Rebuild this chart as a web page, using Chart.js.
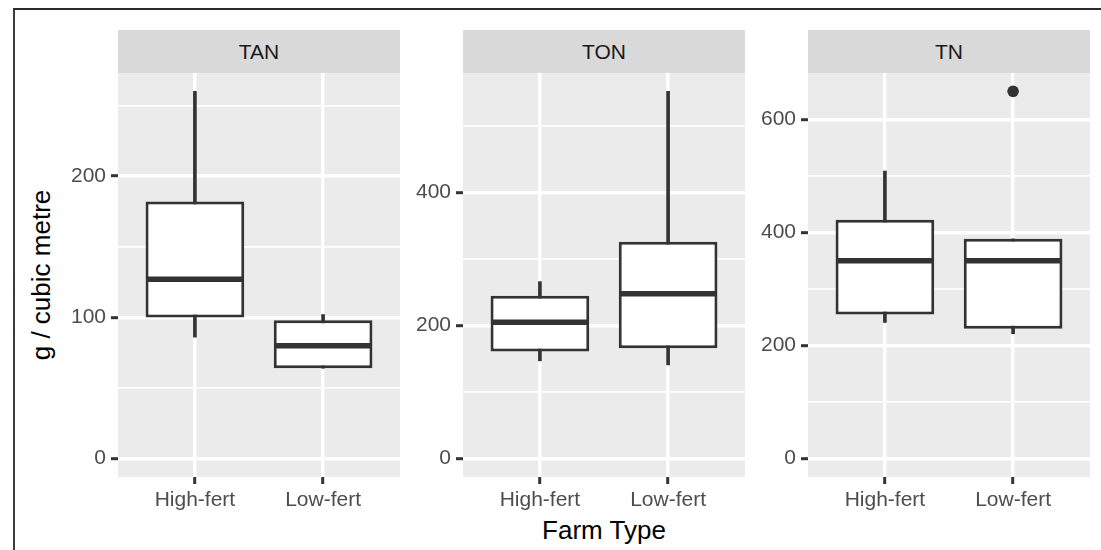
<!DOCTYPE html>
<html>
<head>
<meta charset="utf-8">
<script src="https://cdn.jsdelivr.net/npm/chart.js@4.4.1/dist/chart.umd.min.js"></script>
<style>
  html, body { margin: 0; padding: 0; background: #fff; }
  #fig { position: relative; width: 1101px; height: 550px; overflow: hidden; font-family: "Liberation Sans", Arial, sans-serif; }
  .frame { position: absolute; left: 13px; top: 8px; right: -4px; bottom: -4px; border-left: 2px solid #3c3c3c; border-top: 2px solid #2a2a2a; }
  .strip { position: absolute; top: 30px; height: 43px; width: 282px; background: #d9d9d9; color: #1a1a1a; font-size: 21px; line-height: 43px; text-align: center; }
  .panel { position: absolute; top: 73px; }
  .ytitle { position: absolute; left: 41px; top: 275px; transform: translate(-50%, -50%) rotate(-90deg); font-size: 26px; white-space: nowrap; color: #000; }
  .xtitle { position: absolute; left: 604px; top: 530px; transform: translate(-50%, -50%); font-size: 26px; white-space: nowrap; color: #000; }
</style>
</head>
<body>
<div id="fig">
  <div class="frame"></div>
  <div class="ytitle">g / cubic metre</div>
  <div class="xtitle">Farm Type</div>
</div>
<script>
// valeurs : [min, q1, médiane, q3, max]
const facets = ["TAN", "TON", "TN"];
const farmTypes = ["High-fert", "Low-fert"];

const tanHigh = [86, 100, 127, 182, 260];
const tanLow = [64, 64, 80, 98, 102];
const tonHigh = [147, 161, 205, 245, 266];
const tonLow = [141, 166, 248, 326, 552];
const tnHigh = [241, 255, 350, 423, 509];
const tnLow = [221, 230, 350, 389, 389];

const tanOutliers = [[], []];
const tonOutliers = [[], []];
const tnOutliers = [[], [650]];

const tanTicks = [0, 100, 200];
const tonTicks = [0, 200, 400];
const tnTicks = [0, 200, 400, 600];

// mise en page (px)
const AXIS_W = 58, AXIS_H = 44, PANEL_W = 282, PANEL_H = 404;
const panelLefts = [118, 463, 808];
const INK = "#333333";

Chart.defaults.font.family = '"Liberation Sans", Arial, sans-serif';

const panelBg = {
  id: "panelBg",
  beforeDraw(chart) {
    const { ctx, chartArea: a } = chart;
    ctx.save();
    ctx.fillStyle = "#ebebeb";
    ctx.fillRect(a.left, a.top, a.right - a.left, a.bottom - a.top);
    ctx.restore();
  },
};

const fig = document.getElementById("fig");

function makePanel(idx, stats, outliers, ticks) {
  const left = panelLefts[idx];

  const strip = document.createElement("div");
  strip.className = "strip";
  strip.style.left = left + "px";
  strip.textContent = facets[idx];
  fig.appendChild(strip);

  const canvas = document.createElement("canvas");
  canvas.className = "panel";
  canvas.width = AXIS_W + PANEL_W;
  canvas.height = PANEL_H + AXIS_H;
  canvas.style.left = left - AXIS_W + "px";
  fig.appendChild(canvas);

  // échelle comme ggplot : [0, max] + 5 %
  const top = Math.max(...stats.map((s) => s[4]), ...outliers.flat());
  const pad = top * 0.05;
  const half = (ticks[1] - ticks[0]) / 2;
  const isMajor = (v) => ticks.includes(v);

  return new Chart(canvas, {
    type: "bar",
    data: {
      datasets: [
        {
          type: "bar",
          label: "box",
          data: stats.map((s, i) => ({ x: i, y: [s[1], s[3]] })),
          backgroundColor: "#ffffff",
          borderColor: INK,
          borderWidth: 3,
          borderSkipped: false,
          grouped: false,
          barPercentage: 0.77,
          categoryPercentage: 1,
          order: 2,
        },
        {
          type: "bar",
          label: "whisker",
          data: stats.map((s, i) => ({ x: i, y: [s[0], s[4]] })),
          backgroundColor: INK,
          borderWidth: 0,
          grouped: false,
          barThickness: 3,
          order: 3,
        },
        {
          type: "scatter",
          label: "median",
          data: stats.map((s, i) => ({ x: i, y: s[2] })),
          pointStyle: "line",
          pointRadius: 48,
          pointBorderWidth: 5.5,
          pointBorderColor: INK,
          order: 1,
        },
        {
          type: "scatter",
          label: "outlier",
          data: outliers.flatMap((o, i) => o.map((v) => ({ x: i, y: v }))),
          pointStyle: "circle",
          pointRadius: 5.8,
          pointBackgroundColor: INK,
          pointBorderWidth: 0,
          order: 0,
        },
      ],
    },
    options: {
      responsive: false,
      animation: false,
      events: [],
      layout: { padding: 0, autoPadding: false },
      plugins: { legend: { display: false }, tooltip: { enabled: false } },
      scales: {
        x: {
          type: "linear",
          min: -0.6,
          max: 1.6,
          offset: false,
          afterFit: (s) => { s.height = AXIS_H; s.paddingLeft = 0; s.paddingRight = 0; },
          border: { display: false },
          grid: { offset: false, color: "#ffffff", lineWidth: 3.4, tickLength: 7, tickColor: INK, tickWidth: 3 },
          ticks: {
            stepSize: 1, includeBounds: false, autoSkip: false, maxRotation: 0,
            padding: 4, color: "#4d4d4d", font: { size: 21 },
            callback: (v) => farmTypes[v] ?? "",
          },
        },
        y: {
          min: -pad,
          max: top + pad,
          // grille majeure aux étiquettes, mineure à mi-chemin (comme ggplot)
          afterBuildTicks: (s) => {
            const list = [];
            for (let v = 0; v <= s.max; v += half) list.push({ value: v });
            s.ticks = list;
          },
          afterFit: (s) => { s.width = AXIS_W; s.paddingTop = 0; s.paddingBottom = 0; },
          border: { display: false },
          grid: {
            color: "#ffffff",
            lineWidth: (c) => (c.tick && isMajor(c.tick.value) ? 3.4 : 1.7),
            tickLength: 7,
            tickColor: (c) => (c.tick && isMajor(c.tick.value) ? INK : "rgba(0,0,0,0)"),
            tickWidth: 3,
          },
          ticks: {
            autoSkip: false,
            padding: 5, color: "#4d4d4d", font: { size: 21 },
            callback: (v) => (isMajor(v) ? String(v) : ""),
          },
        },
      },
    },
    plugins: [panelBg],
  });
}

makePanel(0, [tanHigh, tanLow], tanOutliers, tanTicks);
makePanel(1, [tonHigh, tonLow], tonOutliers, tonTicks);
makePanel(2, [tnHigh, tnLow], tnOutliers, tnTicks);
</script>
</body>
</html>
